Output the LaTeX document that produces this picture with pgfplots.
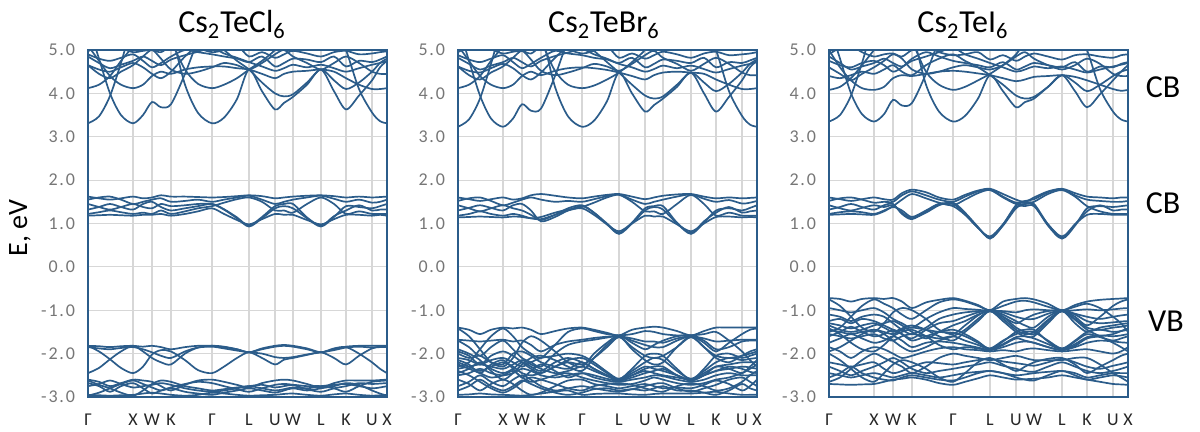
\documentclass[border=0pt]{standalone}
\usepackage{pgfplots}
\usepackage{pgfplotstable}
\pgfplotsset{compat=1.18}
\usepackage{fontspec}
\setmainfont{Carlito}
\definecolor{bandc}{RGB}{43,92,138}
\definecolor{gridc}{RGB}{215,215,215}
\definecolor{tickc}{RGB}{118,118,118}

\pgfplotstableread{
k 0 11 22 33 45 55 64 73 83 97 110 124 136 149 161 174 187 196 205 219 233 246 258 271 284 292 299
u1 3.31 3.47 3.94 4.70 5.6 5.6 5.6 5.6 5.6 5.6 5.6 5.6 5.6 5.6 5.6 5.6 5.6 5.6 5.6 5.6 5.6 5.6 5.6 5.6 5.6 5.6 5.6
u2 5.6 4.80 4.00 3.50 3.31 3.50 3.80 3.68 3.75 4.45 5.20 5.6 5.6 5.6 5.6 5.6 5.6 5.6 5.6 5.6 5.6 5.6 5.6 5.6 5.6 5.6 5.6
u3 5.6 5.6 5.6 5.6 5.6 5.6 5.6 5.6 5.40 4.20 3.55 3.31 3.44 3.87 4.55 4.05 3.63 3.78 3.92 4.20 4.55 4.05 3.63 3.95 4.30 4.60 4.75
u4 5.6 5.6 5.6 5.6 5.6 5.6 5.6 5.6 5.6 5.6 5.6 5.6 5.6 5.6 5.6 5.6 5.6 5.6 5.6 5.6 5.6 5.6 5.00 4.10 3.56 3.36 3.31
u5 4.12 4.20 4.40 4.75 5.10 5.6 5.6 5.6 5.6 5.6 5.6 5.6 5.6 5.6 5.6 5.6 5.6 5.6 5.6 5.6 5.6 5.6 5.6 5.6 5.6 5.6 5.6
u6 5.10 4.75 4.40 4.20 4.12 4.20 4.40 4.50 4.45 4.55 4.60 4.62 4.62 4.58 4.55 4.45 4.35 4.45 4.50 4.52 4.55 4.50 4.35 4.20 4.10 4.10 4.12
u7 5.6 5.6 5.6 5.6 5.6 5.6 5.6 5.6 5.20 4.55 4.22 4.12 4.20 4.35 4.55 4.75 5.00 5.30 5.6 5.6 5.6 5.6 5.6 5.6 5.6 5.6 5.6
u8 4.65 4.55 4.50 4.60 4.70 4.60 4.45 4.35 4.50 4.85 5.10 5.20 5.00 4.75 4.55 4.25 4.00 3.93 3.98 4.25 4.55 4.30 4.10 4.25 4.50 4.70 4.80
u9 4.90 4.80 4.75 4.82 4.90 4.75 4.60 4.70 4.85 5.00 4.95 4.90 4.85 4.80 4.72 4.85 4.62 4.70 4.80 4.78 4.72 4.85 4.62 4.75 4.72 4.78 4.85
u10 4.97 5.10 5.20 5.05 4.95 4.98 5.00 4.95 5.10 5.20 5.05 4.95 5.00 5.10 4.85 4.95 4.82 4.90 4.98 4.92 4.85 4.95 4.98 4.90 4.92 4.95 4.97
u11 4.65 4.45 4.35 4.50 4.65 4.85 5.00 4.80 4.55 4.45 4.50 4.60 4.70 4.65 4.55 4.70 4.90 5.00 4.85 4.70 4.55 4.70 4.85 4.70 4.50 4.45 4.45
u12 4.85 4.70 4.58 4.66 4.75 4.85 4.75 4.65 4.78 4.88 4.96 5.05 4.92 4.82 4.72 4.62 4.52 4.58 4.66 4.60 4.66 4.58 4.50 4.58 4.66 4.70 4.75
m1 1.62 1.58 1.55 1.58 1.62 1.58 1.60 1.65 1.62 1.62 1.61 1.60 1.61 1.63 1.65 1.63 1.58 1.60 1.62 1.64 1.65 1.63 1.60 1.62 1.60 1.61 1.62
m2 1.55 1.60 1.62 1.55 1.45 1.50 1.55 1.58 1.50 1.52 1.55 1.50 1.55 1.60 1.64 1.55 1.45 1.50 1.55 1.60 1.64 1.57 1.50 1.55 1.48 1.50 1.55
m3 1.45 1.38 1.32 1.38 1.45 1.38 1.35 1.45 1.40 1.42 1.45 1.45 1.32 1.12 0.93 1.12 1.35 1.40 1.35 1.12 0.93 1.15 1.40 1.38 1.35 1.40 1.45
m4 1.32 1.38 1.45 1.38 1.32 1.45 1.50 1.38 1.30 1.35 1.40 1.45 1.33 1.14 0.95 1.15 1.40 1.45 1.45 1.14 0.95 1.17 1.30 1.42 1.30 1.32 1.32
m5 1.22 1.26 1.30 1.26 1.22 1.25 1.22 1.30 1.22 1.28 1.35 1.40 1.48 1.56 1.60 1.50 1.30 1.30 1.25 1.45 1.60 1.45 1.22 1.28 1.22 1.22 1.22
m6 1.18 1.19 1.20 1.19 1.18 1.20 1.20 1.22 1.18 1.22 1.28 1.35 1.22 1.08 0.98 1.10 1.22 1.20 1.20 1.08 0.98 1.10 1.20 1.20 1.18 1.20 1.18
v1 -1.82 -1.83 -1.85 -1.83 -1.82 -1.84 -1.82 -1.85 -1.90 -1.85 -1.82 -1.82 -1.85 -1.90 -1.97 -1.88 -1.82 -1.80 -1.82 -1.88 -1.97 -1.90 -1.84 -1.82 -1.82 -1.82 -1.82
v2 -1.82 -1.95 -2.13 -2.33 -2.45 -2.30 -2.02 -1.92 -1.95 -2.15 -2.38 -2.45 -2.30 -2.10 -1.97 -2.10 -2.25 -2.14 -2.10 -2.03 -1.97 -2.10 -2.25 -2.05 -1.88 -1.84 -1.83
v3 -2.45 -2.33 -2.13 -1.95 -1.82 -1.95 -2.10 -2.20 -2.25 -2.00 -1.86 -1.82 -1.84 -1.90 -1.97 -1.90 -1.84 -1.82 -1.84 -1.90 -1.97 -1.88 -1.85 -2.00 -2.20 -2.35 -2.45
v4 -1.85 -1.88 -1.90 -1.87 -1.85 -1.90 -1.97 -2.05 -2.10 -1.95 -1.86 -1.84 -1.88 -1.93 -1.97 -2.00 -2.08 -2.10 -2.08 -2.02 -1.97 -1.92 -1.86 -1.84 -1.86 -1.85 -1.85
l1 -2.60 -2.65 -2.75 -2.68 -2.60 -2.62 -2.65 -2.75 -2.85 -2.72 -2.62 -2.60 -2.65 -2.72 -2.78 -2.68 -2.62 -2.60 -2.62 -2.70 -2.78 -2.68 -2.62 -2.62 -2.62 -2.61 -2.60
l2 -2.62 -2.72 -2.80 -2.90 -2.97 -2.85 -2.70 -2.62 -2.65 -2.75 -2.80 -2.85 -2.82 -2.78 -2.75 -2.72 -2.78 -2.75 -2.72 -2.75 -2.75 -2.80 -2.88 -2.75 -2.65 -2.63 -2.62
l3 -2.97 -2.90 -2.80 -2.70 -2.62 -2.70 -2.78 -2.85 -2.80 -2.88 -2.92 -2.95 -2.90 -2.85 -2.80 -2.85 -2.90 -2.85 -2.80 -2.85 -2.80 -2.75 -2.68 -2.72 -2.85 -2.92 -2.97
l4 -2.95 -2.96 -2.97 -2.96 -2.95 -2.92 -2.90 -2.92 -2.95 -2.97 -2.95 -2.90 -2.92 -2.95 -2.97 -2.96 -2.95 -2.93 -2.92 -2.95 -2.97 -2.94 -2.92 -2.95 -2.97 -2.96 -2.95
l5 -2.75 -2.70 -2.62 -2.70 -2.78 -2.75 -2.72 -2.68 -2.72 -2.80 -2.85 -2.88 -2.85 -2.80 -2.75 -2.80 -2.85 -2.82 -2.78 -2.80 -2.75 -2.72 -2.70 -2.75 -2.80 -2.78 -2.75
l6 -2.68 -2.75 -2.88 -2.75 -2.68 -2.80 -2.92 -2.85 -2.78 -2.70 -2.65 -2.68 -2.75 -2.82 -2.88 -2.80 -2.72 -2.70 -2.72 -2.82 -2.88 -2.80 -2.75 -2.68 -2.70 -2.69 -2.68
}\rawCl

\pgfplotstableread{
k 0 11 22 33 45 55 64 73 83 97 110 124 136 149 161 174 187 196 205 219 233 246 258 271 284 292 299
u1 3.23 3.40 3.88 4.68 5.6 5.6 5.6 5.6 5.6 5.6 5.6 5.6 5.6 5.6 5.6 5.6 5.6 5.6 5.6 5.6 5.6 5.6 5.6 5.6 5.6 5.6 5.6
u2 5.6 4.75 3.95 3.42 3.23 3.42 3.75 3.60 3.65 4.40 5.20 5.6 5.6 5.6 5.6 5.6 5.6 5.6 5.6 5.6 5.6 5.6 5.6 5.6 5.6 5.6 5.6
u3 5.6 5.6 5.6 5.6 5.6 5.6 5.6 5.6 5.40 4.15 3.47 3.23 3.37 3.82 4.48 4.00 3.58 3.73 3.88 4.15 4.48 4.00 3.58 3.92 4.30 4.60 4.75
u4 5.6 5.6 5.6 5.6 5.6 5.6 5.6 5.6 5.6 5.6 5.6 5.6 5.6 5.6 5.6 5.6 5.6 5.6 5.6 5.6 5.6 5.6 5.00 4.05 3.48 3.28 3.23
u5 4.12 4.20 4.40 4.75 5.10 5.6 5.6 5.6 5.6 5.6 5.6 5.6 5.6 5.6 5.6 5.6 5.6 5.6 5.6 5.6 5.6 5.6 5.6 5.6 5.6 5.6 5.6
u6 5.10 4.75 4.40 4.20 4.12 4.20 4.40 4.50 4.42 4.52 4.58 4.60 4.58 4.54 4.48 4.40 4.32 4.42 4.48 4.50 4.48 4.45 4.32 4.20 4.10 4.10 4.12
u7 5.6 5.6 5.6 5.6 5.6 5.6 5.6 5.6 5.20 4.52 4.20 4.12 4.18 4.32 4.48 4.72 5.00 5.30 5.6 5.6 5.6 5.6 5.6 5.6 5.6 5.6 5.6
u8 4.62 4.52 4.48 4.58 4.68 4.58 4.42 4.32 4.48 4.82 5.08 5.18 4.98 4.72 4.48 4.20 3.95 3.88 3.93 4.20 4.48 4.25 4.05 4.22 4.48 4.68 4.78
u9 4.88 4.78 4.72 4.80 4.88 4.72 4.58 4.68 4.82 4.98 4.92 4.88 4.82 4.78 4.70 4.82 4.60 4.68 4.78 4.75 4.70 4.82 4.60 4.72 4.70 4.76 4.82
u10 4.95 5.08 5.18 5.02 4.92 4.96 4.98 4.92 5.08 5.18 5.02 4.92 4.98 5.08 4.82 4.92 4.80 4.88 4.96 4.90 4.82 4.92 4.96 4.88 4.90 4.92 4.95
u11 4.62 4.42 4.32 4.48 4.62 4.82 4.98 4.78 4.52 4.42 4.48 4.58 4.68 4.62 4.52 4.68 4.88 4.98 4.82 4.68 4.52 4.68 4.82 4.68 4.48 4.42 4.42
u12 4.82 4.68 4.55 4.64 4.72 4.82 4.72 4.62 4.75 4.86 4.94 5.02 4.90 4.80 4.68 4.60 4.50 4.56 4.64 4.58 4.64 4.56 4.48 4.56 4.64 4.68 4.72
m1 1.60 1.56 1.52 1.56 1.60 1.55 1.58 1.65 1.68 1.64 1.60 1.58 1.62 1.66 1.68 1.62 1.56 1.60 1.64 1.67 1.68 1.62 1.58 1.60 1.58 1.59 1.60
m2 1.52 1.58 1.60 1.52 1.42 1.48 1.55 1.60 1.55 1.50 1.52 1.50 1.56 1.63 1.67 1.55 1.45 1.50 1.55 1.62 1.67 1.57 1.50 1.54 1.46 1.48 1.52
m3 1.42 1.35 1.28 1.35 1.42 1.35 1.30 1.20 1.08 1.20 1.35 1.42 1.25 0.98 0.76 1.00 1.30 1.38 1.32 1.00 0.76 1.02 1.30 1.35 1.30 1.36 1.42
m4 1.30 1.36 1.42 1.36 1.30 1.42 1.45 1.30 1.05 1.15 1.30 1.40 1.25 1.00 0.78 1.02 1.35 1.40 1.40 1.02 0.78 1.05 1.25 1.38 1.25 1.28 1.30
m5 1.18 1.22 1.28 1.22 1.18 1.22 1.18 1.12 1.10 1.20 1.30 1.38 1.48 1.60 1.66 1.50 1.28 1.28 1.22 1.45 1.66 1.45 1.18 1.25 1.18 1.18 1.18
m6 1.14 1.15 1.16 1.15 1.14 1.16 1.15 1.12 1.15 1.25 1.32 1.35 1.20 0.98 0.82 1.00 1.18 1.16 1.16 0.98 0.82 1.00 1.15 1.16 1.14 1.15 1.14
b1 -1.40 -1.45 -1.55 -1.45 -1.40 -1.42 -1.40 -1.45 -1.55 -1.48 -1.42 -1.40 -1.45 -1.52 -1.58 -1.45 -1.40 -1.38 -1.40 -1.48 -1.58 -1.48 -1.40 -1.40 -1.40 -1.40 -1.40
b2 -1.42 -1.60 -1.90 -2.20 -2.30 -2.10 -1.75 -1.60 -1.70 -1.95 -2.20 -2.30 -2.00 -1.75 -1.58 -1.75 -1.90 -1.80 -1.70 -1.60 -1.58 -1.75 -1.95 -1.75 -1.55 -1.45 -1.42
b3 -2.30 -2.20 -1.90 -1.60 -1.42 -1.60 -1.85 -2.00 -2.10 -1.80 -1.50 -1.42 -1.48 -1.55 -1.58 -1.55 -1.48 -1.50 -1.55 -1.58 -1.58 -1.55 -1.50 -1.70 -1.95 -2.15 -2.30
b4 -1.68 -1.70 -1.72 -1.70 -1.68 -1.72 -1.70 -1.80 -1.95 -1.80 -1.72 -1.68 -1.64 -1.61 -1.60 -1.65 -1.72 -1.72 -1.75 -1.65 -1.60 -1.65 -1.72 -1.70 -1.68 -1.68 -1.68
b5 -1.70 -1.85 -2.05 -1.85 -1.70 -1.90 -2.10 -2.20 -2.30 -2.00 -1.80 -1.72 -1.68 -1.63 -1.60 -1.70 -1.80 -1.85 -1.85 -1.70 -1.60 -1.70 -1.90 -1.85 -1.72 -1.70 -1.70
b6 -2.10 -2.15 -2.25 -2.15 -2.10 -2.20 -2.30 -2.20 -2.10 -2.05 -2.00 -2.05 -2.20 -2.42 -2.58 -2.40 -2.20 -2.10 -2.15 -2.40 -2.58 -2.40 -2.20 -2.10 -2.15 -2.12 -2.10
b7 -2.20 -2.30 -2.40 -2.30 -2.20 -2.30 -2.45 -2.50 -2.45 -2.30 -2.15 -2.10 -2.25 -2.45 -2.60 -2.45 -2.30 -2.35 -2.40 -2.50 -2.60 -2.45 -2.30 -2.25 -2.20 -2.20 -2.20
b8 -2.35 -2.30 -2.25 -2.30 -2.35 -2.25 -2.15 -2.25 -2.35 -2.45 -2.40 -2.30 -2.40 -2.52 -2.62 -2.55 -2.45 -2.40 -2.35 -2.50 -2.62 -2.50 -2.40 -2.35 -2.30 -2.32 -2.35
b9 -2.50 -2.45 -2.35 -2.45 -2.50 -2.45 -2.35 -2.40 -2.50 -2.55 -2.50 -2.45 -2.55 -2.62 -2.65 -2.60 -2.55 -2.50 -2.52 -2.60 -2.65 -2.60 -2.50 -2.45 -2.50 -2.50 -2.50
b10 -2.60 -2.70 -2.85 -2.70 -2.60 -2.70 -2.85 -2.95 -2.90 -2.75 -2.62 -2.60 -2.70 -2.75 -2.80 -2.75 -2.70 -2.75 -2.80 -2.78 -2.80 -2.72 -2.62 -2.70 -2.85 -2.75 -2.60
b11 -2.85 -2.75 -2.60 -2.75 -2.85 -2.75 -2.62 -2.70 -2.80 -2.90 -2.95 -2.90 -2.82 -2.80 -2.85 -2.82 -2.85 -2.80 -2.75 -2.85 -2.85 -2.90 -2.95 -2.85 -2.70 -2.80 -2.85
b12 -2.95 -2.94 -2.92 -2.94 -2.95 -2.96 -2.97 -2.95 -2.92 -2.88 -2.85 -2.95 -2.93 -2.92 -2.92 -2.94 -2.95 -2.93 -2.92 -2.92 -2.92 -2.90 -2.88 -2.92 -2.95 -2.95 -2.95
b13 -1.90 -2.00 -2.15 -2.40 -2.60 -2.45 -2.25 -2.10 -2.05 -2.15 -2.30 -2.40 -2.10 -1.80 -1.60 -1.90 -2.15 -2.25 -2.20 -1.85 -1.60 -1.85 -2.10 -2.20 -2.05 -1.95 -1.90
b14 -2.00 -2.10 -2.05 -2.20 -2.25 -2.00 -1.95 -2.05 -2.20 -2.30 -2.35 -2.20 -2.35 -2.50 -2.60 -2.35 -2.05 -2.00 -2.05 -2.35 -2.60 -2.35 -2.05 -2.00 -2.10 -2.05 -2.00
b15 -2.25 -2.35 -2.45 -2.55 -2.50 -2.40 -2.55 -2.65 -2.60 -2.50 -2.45 -2.55 -2.62 -2.68 -2.72 -2.70 -2.62 -2.55 -2.60 -2.68 -2.72 -2.68 -2.60 -2.55 -2.45 -2.35 -2.25
b16 -2.15 -2.25 -2.45 -2.25 -2.15 -2.35 -2.55 -2.40 -2.25 -2.40 -2.55 -2.45 -2.50 -2.58 -2.62 -2.50 -2.35 -2.30 -2.30 -2.50 -2.62 -2.50 -2.30 -2.35 -2.45 -2.30 -2.15
b17 -2.45 -2.35 -2.20 -2.35 -2.45 -2.35 -2.20 -2.30 -2.40 -2.20 -2.10 -2.20 -2.35 -2.50 -2.60 -2.50 -2.40 -2.45 -2.50 -2.55 -2.60 -2.50 -2.40 -2.30 -2.35 -2.42 -2.45
b18 -1.95 -2.05 -2.25 -2.05 -1.95 -2.05 -2.20 -2.35 -2.45 -2.30 -2.20 -2.25 -2.10 -1.85 -1.62 -1.85 -2.05 -2.10 -2.05 -1.85 -1.62 -1.85 -2.05 -2.10 -2.05 -2.00 -1.95
b19 -2.75 -2.65 -2.50 -2.65 -2.75 -2.60 -2.50 -2.60 -2.75 -2.85 -2.80 -2.75 -2.80 -2.85 -2.88 -2.82 -2.75 -2.70 -2.68 -2.80 -2.88 -2.80 -2.72 -2.60 -2.55 -2.65 -2.75
b20 -2.40 -2.50 -2.65 -2.80 -2.90 -2.80 -2.65 -2.55 -2.60 -2.70 -2.80 -2.85 -2.75 -2.70 -2.68 -2.72 -2.80 -2.85 -2.88 -2.75 -2.68 -2.75 -2.85 -2.80 -2.65 -2.50 -2.40
}\rawBr

\pgfplotstableread{
k 0 11 22 33 45 55 64 73 83 97 110 124 136 149 161 174 187 196 205 219 233 246 258 271 284 292 299
u1 3.35 3.50 3.95 4.70 5.6 5.6 5.6 5.6 5.6 5.6 5.6 5.6 5.6 5.6 5.6 5.6 5.6 5.6 5.6 5.6 5.6 5.6 5.6 5.6 5.6 5.6 5.6
u2 5.6 4.80 4.00 3.52 3.35 3.52 3.85 3.72 3.78 4.45 5.20 5.6 5.6 5.6 5.6 5.6 5.6 5.6 5.6 5.6 5.6 5.6 5.6 5.6 5.6 5.6 5.6
u3 5.6 5.6 5.6 5.6 5.6 5.6 5.6 5.6 5.40 4.20 3.58 3.35 3.48 3.88 4.42 4.05 3.68 3.80 3.88 4.15 4.42 4.05 3.68 3.98 4.30 4.50 4.65
u4 5.6 5.6 5.6 5.6 5.6 5.6 5.6 5.6 5.6 5.6 5.6 5.6 5.6 5.6 5.6 5.6 5.6 5.6 5.6 5.6 5.6 5.6 5.00 4.10 3.58 3.40 3.35
u5 5.00 4.60 4.30 4.12 4.08 4.15 4.35 4.42 4.40 4.45 4.50 4.52 4.50 4.46 4.42 4.35 4.28 4.32 4.38 4.40 4.42 4.38 4.30 4.20 4.10 4.06 4.08
u6 4.08 4.15 4.35 4.65 5.00 5.30 5.6 5.6 5.6 5.6 5.6 5.6 5.6 5.6 5.6 5.6 5.6 5.6 5.6 5.6 5.6 5.6 5.6 5.6 5.6 5.6 5.6
u7 5.6 5.6 5.6 5.6 5.6 5.6 5.6 5.6 5.20 4.50 4.20 4.08 4.15 4.30 4.45 4.65 4.90 5.20 5.6 5.6 5.6 5.6 5.6 5.6 5.6 5.6 5.6
u8 4.40 4.35 4.42 4.50 4.45 4.55 4.65 4.50 4.42 4.65 4.80 4.90 4.75 4.60 4.42 4.20 3.95 3.88 3.92 4.15 4.42 4.25 4.05 4.20 4.40 4.50 4.55
u9 4.75 4.65 4.60 4.70 4.75 4.65 4.50 4.60 4.80 4.95 4.85 4.75 4.70 4.65 4.60 4.72 4.55 4.62 4.70 4.65 4.60 4.72 4.50 4.62 4.60 4.68 4.72
u10 4.90 5.05 5.10 4.95 4.85 4.90 4.92 4.85 5.00 5.10 4.95 4.88 4.90 4.95 4.78 4.88 4.75 4.85 4.92 4.85 4.78 4.88 4.90 4.85 4.82 4.88 4.90
u11 4.60 4.45 4.30 4.45 4.60 4.75 4.90 4.80 4.55 4.45 4.50 4.60 4.65 4.60 4.55 4.65 4.85 4.95 4.80 4.65 4.55 4.65 4.80 4.68 4.45 4.40 4.40
u12 4.85 4.70 4.55 4.62 4.70 4.80 4.70 4.62 4.75 4.85 4.95 5.05 4.90 4.80 4.70 4.60 4.50 4.55 4.62 4.58 4.62 4.55 4.48 4.55 4.62 4.66 4.70
m1 1.60 1.56 1.52 1.56 1.60 1.56 1.55 1.70 1.78 1.72 1.60 1.55 1.66 1.76 1.80 1.68 1.55 1.50 1.60 1.74 1.80 1.70 1.62 1.60 1.58 1.60 1.60
m2 1.52 1.58 1.60 1.55 1.48 1.50 1.50 1.65 1.74 1.65 1.55 1.50 1.62 1.74 1.79 1.62 1.48 1.52 1.56 1.72 1.79 1.65 1.55 1.52 1.50 1.50 1.52
m3 1.42 1.35 1.30 1.36 1.42 1.38 1.42 1.25 1.12 1.25 1.42 1.48 1.25 0.92 0.65 0.95 1.35 1.45 1.42 0.95 0.65 0.95 1.35 1.40 1.38 1.40 1.42
m4 1.32 1.38 1.45 1.38 1.32 1.42 1.45 1.22 1.10 1.28 1.45 1.45 1.22 0.90 0.67 0.98 1.42 1.48 1.45 0.98 0.67 0.98 1.28 1.42 1.30 1.32 1.32
m5 1.22 1.26 1.28 1.26 1.22 1.30 1.40 1.55 1.68 1.58 1.48 1.42 1.55 1.70 1.77 1.60 1.45 1.45 1.50 1.68 1.77 1.62 1.40 1.28 1.22 1.22 1.22
m6 1.20 1.21 1.22 1.21 1.20 1.28 1.38 1.30 1.15 1.30 1.45 1.40 1.20 0.90 0.70 0.98 1.38 1.40 1.40 0.98 0.70 0.98 1.20 1.22 1.20 1.20 1.20
i1 -0.72 -0.74 -0.80 -0.74 -0.72 -0.74 -0.72 -0.80 -0.95 -0.82 -0.76 -0.72 -0.78 -0.88 -1.00 -0.80 -0.74 -0.72 -0.75 -0.85 -1.00 -0.88 -0.80 -0.76 -0.74 -0.73 -0.72
i2 -0.75 -0.90 -1.15 -1.40 -1.50 -1.30 -1.05 -0.95 -1.00 -1.20 -1.45 -1.55 -1.35 -1.12 -1.00 -1.15 -1.30 -1.20 -1.10 -1.02 -1.00 -1.15 -1.35 -1.15 -0.90 -0.80 -0.75
i3 -1.50 -1.40 -1.15 -0.90 -0.75 -0.85 -0.95 -1.10 -1.20 -1.00 -0.82 -0.75 -0.80 -0.90 -1.00 -0.90 -0.80 -0.78 -0.82 -0.92 -1.00 -0.92 -0.85 -0.95 -1.15 -1.30 -1.50
i4 -0.95 -1.00 -1.05 -1.00 -0.95 -1.05 -1.20 -1.30 -1.40 -1.20 -1.05 -0.95 -0.97 -0.99 -1.02 -1.02 -1.05 -1.00 -0.98 -1.00 -1.02 -1.00 -0.98 -1.00 -0.98 -0.96 -0.95
i5 -1.25 -1.20 -1.30 -1.20 -1.25 -1.35 -1.45 -1.55 -1.65 -1.45 -1.30 -1.25 -1.15 -1.05 -1.00 -1.10 -1.25 -1.35 -1.40 -1.15 -1.00 -1.10 -1.25 -1.30 -1.28 -1.26 -1.25
i6 -1.35 -1.45 -1.50 -1.45 -1.35 -1.30 -1.25 -1.35 -1.50 -1.65 -1.50 -1.35 -1.25 -1.10 -1.02 -1.15 -1.40 -1.50 -1.55 -1.25 -1.02 -1.20 -1.40 -1.45 -1.40 -1.38 -1.35
i7 -1.45 -1.50 -1.55 -1.50 -1.45 -1.50 -1.55 -1.45 -1.40 -1.45 -1.50 -1.52 -1.60 -1.75 -1.88 -1.70 -1.55 -1.50 -1.50 -1.70 -1.88 -1.70 -1.50 -1.45 -1.50 -1.48 -1.45
i8 -1.55 -1.60 -1.65 -1.60 -1.55 -1.65 -1.70 -1.60 -1.55 -1.60 -1.65 -1.60 -1.70 -1.80 -1.90 -1.78 -1.62 -1.60 -1.65 -1.78 -1.90 -1.78 -1.62 -1.58 -1.60 -1.58 -1.55
i9 -1.75 -1.65 -1.55 -1.65 -1.75 -1.70 -1.60 -1.70 -1.85 -1.75 -1.72 -1.75 -1.80 -1.86 -1.92 -1.85 -1.75 -1.72 -1.75 -1.85 -1.92 -1.85 -1.75 -1.70 -1.72 -1.74 -1.75
i10 -1.85 -1.95 -2.10 -1.95 -1.85 -1.90 -2.00 -2.10 -2.05 -1.95 -1.88 -1.85 -1.90 -1.92 -1.95 -1.92 -1.95 -1.90 -1.88 -1.92 -1.95 -1.92 -1.90 -1.95 -2.00 -1.95 -1.85
i11 -2.00 -2.15 -2.35 -2.55 -2.65 -2.45 -2.25 -2.15 -2.20 -2.35 -2.55 -2.65 -2.45 -2.20 -2.10 -2.25 -2.40 -2.30 -2.20 -2.12 -2.10 -2.25 -2.45 -2.30 -2.15 -2.05 -2.00
i12 -2.65 -2.55 -2.35 -2.15 -2.00 -2.10 -2.20 -2.30 -2.45 -2.30 -2.10 -2.00 -2.05 -2.10 -2.15 -2.10 -2.05 -2.10 -2.15 -2.15 -2.15 -2.10 -2.10 -2.25 -2.45 -2.55 -2.65
i13 -2.45 -2.50 -2.55 -2.50 -2.45 -2.50 -2.55 -2.50 -2.45 -2.50 -2.55 -2.50 -2.45 -2.42 -2.40 -2.45 -2.50 -2.48 -2.45 -2.42 -2.40 -2.45 -2.55 -2.50 -2.45 -2.45 -2.45
i14 -2.70 -2.71 -2.72 -2.71 -2.70 -2.65 -2.60 -2.58 -2.55 -2.60 -2.68 -2.72 -2.65 -2.57 -2.50 -2.55 -2.60 -2.59 -2.58 -2.55 -2.50 -2.55 -2.60 -2.65 -2.70 -2.71 -2.72
i15 -2.20 -2.25 -2.30 -2.25 -2.20 -2.35 -2.45 -2.40 -2.30 -2.20 -2.22 -2.25 -2.20 -2.15 -2.12 -2.18 -2.22 -2.25 -2.28 -2.20 -2.12 -2.20 -2.30 -2.35 -2.28 -2.24 -2.20
i16 -1.10 -1.15 -1.25 -1.15 -1.10 -1.15 -1.30 -1.45 -1.55 -1.40 -1.20 -1.10 -1.05 -1.02 -1.00 -1.05 -1.15 -1.20 -1.20 -1.08 -1.00 -1.08 -1.15 -1.20 -1.15 -1.12 -1.10
i17 -1.30 -1.35 -1.42 -1.35 -1.30 -1.40 -1.50 -1.42 -1.35 -1.45 -1.60 -1.70 -1.50 -1.25 -1.02 -1.25 -1.50 -1.60 -1.60 -1.30 -1.02 -1.30 -1.50 -1.40 -1.35 -1.32 -1.30
i18 -1.60 -1.50 -1.38 -1.50 -1.60 -1.55 -1.45 -1.55 -1.70 -1.60 -1.50 -1.45 -1.55 -1.72 -1.90 -1.72 -1.50 -1.45 -1.45 -1.72 -1.90 -1.72 -1.55 -1.62 -1.70 -1.65 -1.60
i19 -1.42 -1.55 -1.75 -1.90 -1.95 -1.80 -1.60 -1.50 -1.45 -1.60 -1.80 -1.90 -1.85 -1.88 -1.92 -1.80 -1.65 -1.70 -1.75 -1.85 -1.92 -1.82 -1.65 -1.60 -1.55 -1.48 -1.42
i20 -1.95 -1.85 -1.70 -1.55 -1.45 -1.55 -1.70 -1.85 -1.95 -1.85 -1.70 -1.60 -1.45 -1.20 -1.02 -1.20 -1.45 -1.55 -1.50 -1.22 -1.02 -1.22 -1.45 -1.60 -1.75 -1.85 -1.95
i21 -2.30 -2.40 -2.50 -2.40 -2.30 -2.20 -2.10 -2.20 -2.35 -2.45 -2.40 -2.35 -2.30 -2.25 -2.20 -2.28 -2.35 -2.40 -2.42 -2.30 -2.20 -2.30 -2.40 -2.45 -2.40 -2.35 -2.30
i22 -2.55 -2.45 -2.30 -2.45 -2.55 -2.60 -2.62 -2.55 -2.50 -2.55 -2.60 -2.62 -2.55 -2.45 -2.40 -2.45 -2.55 -2.60 -2.62 -2.50 -2.40 -2.50 -2.60 -2.55 -2.50 -2.52 -2.55
}\rawI

\pgfplotstabletranspose[colnames from=k]\tabCl\rawCl
\pgfplotstabletranspose[colnames from=k]\tabBr\rawBr
\pgfplotstabletranspose[colnames from=k]\tabI\rawI

\pgfplotsset{bandaxis/.style={
  scale only axis, width=149.5pt, height=173.5pt,
  anchor=south west,
  xmin=0, xmax=299, ymin=-3, ymax=5,
  xtick={0,45,64,83,124,161,187,205,233,258,284,299},
  xticklabels={Γ,X,W,K,Γ,L,U,W,L,K,U,X},
  ytick={-3,-2,-1,0,1,2,3,4,5},
  grid=major, major grid style={gridc, line width=0.6pt},
  major tick length=0pt,
  axis line style={bandc, line width=1pt},
  yticklabel style={tickc, font=\fontsize{9}{10}\selectfont\addfontfeatures{LetterSpace=10}, xshift=-3pt,
    /pgf/number format/.cd, fixed, fixed zerofill, precision=1, assume math mode=true},
  xticklabel style={black!85, font=\fontsize{9}{10}\selectfont\addfontfeatures{LetterSpace=5}, yshift=-5pt},
}}
\tikzset{bandline/.style={bandc, solid, line width=0.85pt, smooth, mark=none}}

\begin{document}
\begin{tikzpicture}
\path[use as bounding box] (0pt,0pt) rectangle (600pt,216pt);
\begin{axis}[bandaxis, at={(44pt,17.5pt)}]
\pgfplotsinvokeforeach{u1,u2,u3,u4,u5,u6,u7,u8,u9,u10,u11,u12,m1,m2,m3,m4,m5,m6,v1,v2,v3,v4,l1,l2,l3,l4,l5,l6}{
  \addplot[bandline] table[x=colnames,y=#1]{\tabCl};
}
\end{axis}
\begin{axis}[bandaxis, at={(229pt,17.5pt)}]
\pgfplotsinvokeforeach{u1,u2,u3,u4,u5,u6,u7,u8,u9,u10,u11,u12,m1,m2,m3,m4,m5,m6,b1,b2,b3,b4,b5,b6,b7,b8,b9,b10,b11,b12,b13,b14,b15,b16,b17,b18,b19,b20}{
  \addplot[bandline] table[x=colnames,y=#1]{\tabBr};
}
\end{axis}
\begin{axis}[bandaxis, at={(414.5pt,17.5pt)}]
\pgfplotsinvokeforeach{u1,u2,u3,u4,u5,u6,u7,u8,u9,u10,u11,u12,m1,m2,m3,m4,m5,m6,i1,i2,i3,i4,i5,i6,i7,i8,i9,i10,i11,i12,i13,i14,i15,i16,i17,i18,i19,i20,i21,i22}{
  \addplot[bandline] table[x=colnames,y=#1]{\tabI};
}
\end{axis}
\node[anchor=base, font=\fontsize{16}{18}\selectfont] at (116pt,199.5pt) {Cs\textsubscript{2}TeCl\textsubscript{6}};
\node[anchor=base, font=\fontsize{16}{18}\selectfont] at (302pt,199.5pt) {Cs\textsubscript{2}TeBr\textsubscript{6}};
\node[anchor=base, font=\fontsize{16}{18}\selectfont] at (481.5pt,199.5pt) {Cs\textsubscript{2}TeI\textsubscript{6}};
\node[rotate=90, font=\fontsize{14}{16}\selectfont] at (10pt,102pt) {E, eV};
\node[font=\fontsize{16}{18}\selectfont] at (581.5pt,172.5pt) {CB};
\node[font=\fontsize{16}{18}\selectfont] at (581.5pt,114.5pt) {CB};
\node[font=\fontsize{16}{18}\selectfont] at (583pt,55.5pt) {VB};
\end{tikzpicture}
\end{document}
